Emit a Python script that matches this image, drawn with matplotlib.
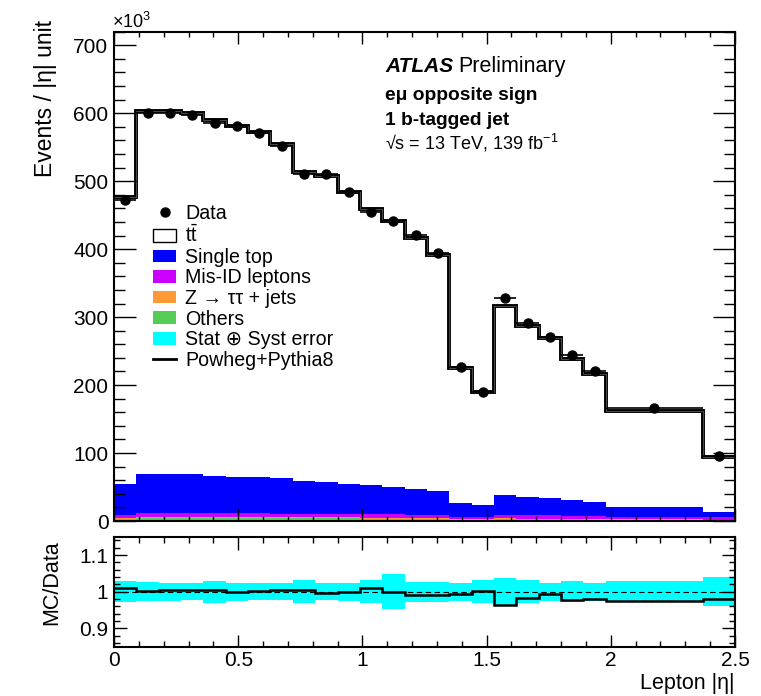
import numpy as np
import matplotlib
matplotlib.use("Agg")
import matplotlib.pyplot as plt
import matplotlib.patheffects as pe
from matplotlib.patches import Patch
from matplotlib.lines import Line2D
from matplotlib.ticker import MultipleLocator

plt.rcParams['font.family'] = ['Liberation Sans', 'DejaVu Sans']
plt.rcParams['mathtext.fontset'] = 'custom'
plt.rcParams['mathtext.rm'] = 'Liberation Sans'
plt.rcParams['mathtext.it'] = 'Liberation Sans:italic'
plt.rcParams['mathtext.bf'] = 'Liberation Sans:bold'

# lepton |eta| binning
edges = [0.0, 0.09, 0.18, 0.27, 0.36, 0.45, 0.54, 0.63, 0.72, 0.81, 0.90, 0.99,
         1.08, 1.17, 1.26, 1.35, 1.44, 1.53, 1.62, 1.71, 1.80, 1.89, 1.98, 2.37, 2.5]

# events / |eta| unit, in units of 10^3
data = [472, 601, 601, 598, 586, 581, 571, 552, 511, 510, 484, 454,
        441, 421, 395, 226, 190, 328, 292, 271, 244, 220, 166, 96]
mc_over_data = [1.011, 1.003, 1.004, 1.005, 1.006, 1.000, 1.003, 1.004, 1.005, 0.996, 1.000, 1.011,
                1.000, 0.990, 0.991, 0.995, 1.002, 0.964, 0.982, 0.995, 0.977, 0.980, 0.975, 0.979]
rel_unc = [0.028, 0.026, 0.025, 0.023, 0.030, 0.025, 0.023, 0.023, 0.032, 0.023, 0.025, 0.031,
           0.048, 0.027, 0.027, 0.025, 0.032, 0.037, 0.032, 0.025, 0.028, 0.025, 0.028, 0.039]

single_top = [44.4, 56.9, 56.9, 57.0, 54.6, 53.1, 53.9, 52.3, 47.9, 46.4, 44.5, 42.4,
              39.7, 38.0, 34.9, 20.5, 17.8, 28.8, 26.4, 25.2, 22.6, 20.0, 13.5, 7.6]
mis_id = [4.5, 5.5, 5.5, 5.5, 5.3, 5.2, 5.3, 5.2, 5.0, 5.0, 5.1, 5.0,
          4.9, 4.8, 4.7, 3.2, 2.8, 5.0, 4.8, 4.7, 4.6, 4.5, 4.2, 3.5]
z_tautau = [1.5, 1.9, 1.9, 1.9, 1.8, 1.8, 1.8, 1.7, 1.6, 1.6, 1.6, 1.5,
            1.5, 1.4, 1.3, 0.8, 0.7, 1.2, 1.1, 1.0, 0.9, 0.9, 0.7, 0.5]
others = [3.6, 4.4, 4.4, 4.3, 4.3, 4.2, 4.2, 4.1, 3.9, 3.9, 3.8, 3.6,
          3.5, 3.4, 3.2, 2.0, 1.7, 2.8, 2.6, 2.5, 2.3, 2.1, 1.7, 1.2]

edges = np.array(edges)
data = np.array(data, dtype=float)
ratio = np.array(mc_over_data)
unc = np.array(rel_unc)
centers = 0.5 * (edges[1:] + edges[:-1])
half_w = 0.5 * np.diff(edges)

total_mc = data * ratio
bkg = [np.array(others), np.array(z_tautau), np.array(mis_id), np.array(single_top)]
ttbar = total_mc - sum(bkg)
data_err = np.sqrt(data * 1e3 * np.diff(edges)) / np.diff(edges) / 1e3

c_stop = '#0000ff'
c_misid = '#cc00ff'
c_ztt = '#ff9933'
c_oth = '#55cc55'
c_band = '#00ffff'

fig = plt.figure(figsize=(7.61, 6.96), dpi=100)
ax = fig.add_axes([0.1498, 0.2514, 0.816, 0.7031])
rx = fig.add_axes([0.1498, 0.0708, 0.816, 0.1580])

# stacked prediction
stack = [(others, c_oth), (z_tautau, c_ztt), (mis_id, c_misid), (single_top, c_stop)]
base = np.zeros_like(data)
for vals, col in stack:
    top = base + np.array(vals)
    ax.stairs(top, edges, baseline=base, fill=True, color=col, lw=0)
    base = top
ax.stairs(base + ttbar, edges, baseline=base, fill=True, color='white', lw=0)
mc_line = ax.stairs(total_mc, edges, baseline=None, color='#555555', lw=0.6)
mc_line.set_path_effects([pe.Stroke(linewidth=2.8, foreground='black'), pe.Normal()])

ax.errorbar(centers, data, xerr=half_w, yerr=data_err, fmt='o', color='black',
            ms=6.5, elinewidth=1.2, capsize=0, zorder=5)

ax.set_xlim(0, 2.5)
ax.set_ylim(0, 720)
ax.set_xticklabels([])
ax.xaxis.set_major_locator(MultipleLocator(0.5))
ax.xaxis.set_minor_locator(MultipleLocator(0.1))
ax.yaxis.set_major_locator(MultipleLocator(100))
ax.yaxis.set_minor_locator(MultipleLocator(20))
ax.tick_params(axis='both', which='both', direction='in', top=True, right=True,
               labelsize=15, width=1.0)
ax.tick_params(axis='y', which='major', length=15.5, pad=4)
ax.tick_params(axis='y', which='minor', length=8)
ax.tick_params(axis='x', which='major', length=8.5)
ax.tick_params(axis='x', which='minor', length=3.8)
for sp in ax.spines.values():
    sp.set_linewidth(1.5)

fig.text(112 / 761, 1 - 28 / 696, r'$\times$10$^{3}$', fontsize=13, ha='left', va='baseline')
fig.text(46 / 761, 1 - 20 / 696, 'Events / |η| unit', rotation=90, fontsize=16.5,
         ha='center', va='top')

# labels
tx = 0.437
ax.text(tx, 0.918, 'ATLAS', transform=ax.transAxes, fontsize=15,
        fontweight='bold', fontstyle='italic')
ax.text(tx + 0.118, 0.918, 'Preliminary', transform=ax.transAxes, fontsize=15.5)
ax.text(tx, 0.860, 'eμ opposite sign', transform=ax.transAxes, fontsize=13.8,
        fontweight='bold')
ax.text(tx, 0.809, '1 b-tagged jet', transform=ax.transAxes, fontsize=13.8,
        fontweight='bold')
ax.text(tx, 0.760, '√s = 13 TeV, 139 fb$^{-1}$', transform=ax.transAxes, fontsize=13)

handles = [
    Line2D([], [], marker='o', ls='none', color='black', ms=6.5),
    Patch(facecolor='white', edgecolor='black', lw=1.0),
    Patch(facecolor=c_stop, edgecolor='none'),
    Patch(facecolor=c_misid, edgecolor='none'),
    Patch(facecolor=c_ztt, edgecolor='none'),
    Patch(facecolor=c_oth, edgecolor='none'),
    Patch(facecolor=c_band, edgecolor='none'),
    Line2D([], [], color='black', lw=2),
]
labels = ['Data', r'$\mathrm{t\bar{t}}$', 'Single top', 'Mis-ID leptons',
          'Z → ττ + jets', 'Others', 'Stat ⊕ Syst error', 'Powheg+Pythia8']
ax.legend(handles, labels, loc='upper left', bbox_to_anchor=(0.0628, 0.648),
          frameon=False, fontsize=14.1, borderpad=0, borderaxespad=0,
          handlelength=1.18, handleheight=0.62, handletextpad=0.45, labelspacing=0.08)

# ratio panel
rx.stairs(1 + unc, edges, baseline=1 - unc, fill=True, color=c_band, lw=0)
rx.axhline(1.0, color='black', lw=0.8, ls=(0, (5, 3)))
rx.stairs(ratio, edges, baseline=None, color='black', lw=1.8)

rx.set_xlim(0, 2.5)
rx.set_ylim(0.85, 1.15)
rx.set_yticks([0.9, 1.0, 1.1])
rx.set_yticklabels(['0.9', '1', '1.1'])
rx.yaxis.set_minor_locator(MultipleLocator(0.02))
rx.set_xticks([0, 0.5, 1, 1.5, 2, 2.5])
rx.set_xticklabels(['0', '0.5', '1', '1.5', '2', '2.5'])
rx.xaxis.set_minor_locator(MultipleLocator(0.1))
rx.tick_params(axis='both', which='both', direction='in', top=True, right=True,
               labelsize=15, width=1.0)
rx.tick_params(axis='y', which='major', length=9.5, pad=4)
rx.tick_params(axis='y', which='minor', length=4.5)
rx.tick_params(axis='x', which='major', length=9, pad=3)
rx.tick_params(axis='x', which='minor', length=4.5)
for sp in rx.spines.values():
    sp.set_linewidth(1.5)

fig.text(52 / 761, 1 - 583 / 696, 'MC/Data', rotation=90, fontsize=15.5,
         ha='center', va='center')
fig.text(735 / 761, 1 - 683 / 696, 'Lepton |η|', fontsize=15.5, ha='right', va='center')

fig.savefig('out.png', dpi=100)
